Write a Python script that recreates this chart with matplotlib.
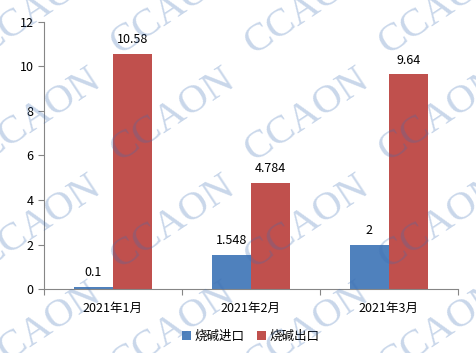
import matplotlib
matplotlib.use('Agg')
import matplotlib.pyplot as plt
import numpy as np

plt.rcParams['font.family'] = ['Noto Sans CJK SC', 'DejaVu Sans']

# Data
months = ['2021年1月', '2021年2月', '2021年3月']
imports = [0.1, 1.548, 2]
exports = [10.58, 4.784, 9.64]
import_labels = ['0.1', '1.548', '2']
export_labels = ['10.58', '4.784', '9.64']

blue = '#4f81bd'
red = '#c0504d'

W, H = 477, 353
fig = plt.figure(figsize=(W / 100, H / 100), dpi=100)
ax = fig.add_axes([0.092, 0.181, 0.868, 0.757])

x = np.arange(len(months))
w = 0.283
b1 = ax.bar(x - w / 2, imports, w, color=blue, label='烧碱进口', zorder=2)
b2 = ax.bar(x + w / 2, exports, w, color=red, label='烧碱出口', zorder=2)

for bars, labels in [(b1, import_labels), (b2, export_labels)]:
    for rect, lab in zip(bars, labels):
        ax.text(rect.get_x() + rect.get_width() / 2, rect.get_height() + 0.35, lab,
                ha='center', va='bottom', fontsize=9, zorder=3)

ax.set_xlim(-0.5, 2.5)
ax.set_ylim(0, 12)
ax.set_yticks(range(0, 13, 2))
ax.set_xticks([-0.5, 0.5, 1.5, 2.5])
ax.set_xticklabels([])
ax.set_xticks(x, minor=True)
ax.set_xticklabels(months, minor=True, fontsize=9)
ax.tick_params(axis='x', which='minor', length=0, pad=9)
ax.tick_params(axis='x', which='major', length=4, direction='out', color='#868686')
ax.tick_params(axis='y', length=4, direction='out', color='#868686', labelsize=9)

for side in ['top', 'right']:
    ax.spines[side].set_visible(False)
for side in ['left', 'bottom']:
    ax.spines[side].set_color('#868686')

ax.legend(loc='upper center', bbox_to_anchor=(0.5, -0.11), ncol=2,
          frameon=False, fontsize=9, handlelength=0.7, handleheight=0.7,
          handletextpad=0.3, columnspacing=1.0)

# CCAON watermark, tiled over the whole picture
for j in range(-1, 4):
    for k in range(0, 4):
        px = -15 + 134 * k
        py = 55 + 107 * j
        fig.text(px / W, 1 - py / H, 'CCAON', rotation=33.5, rotation_mode='anchor',
                 fontsize=29, family='Liberation Serif', color='#3c6eb4',
                 alpha=0.28, ha='left', va='baseline', zorder=10)

fig.savefig('out.png', dpi=100)
